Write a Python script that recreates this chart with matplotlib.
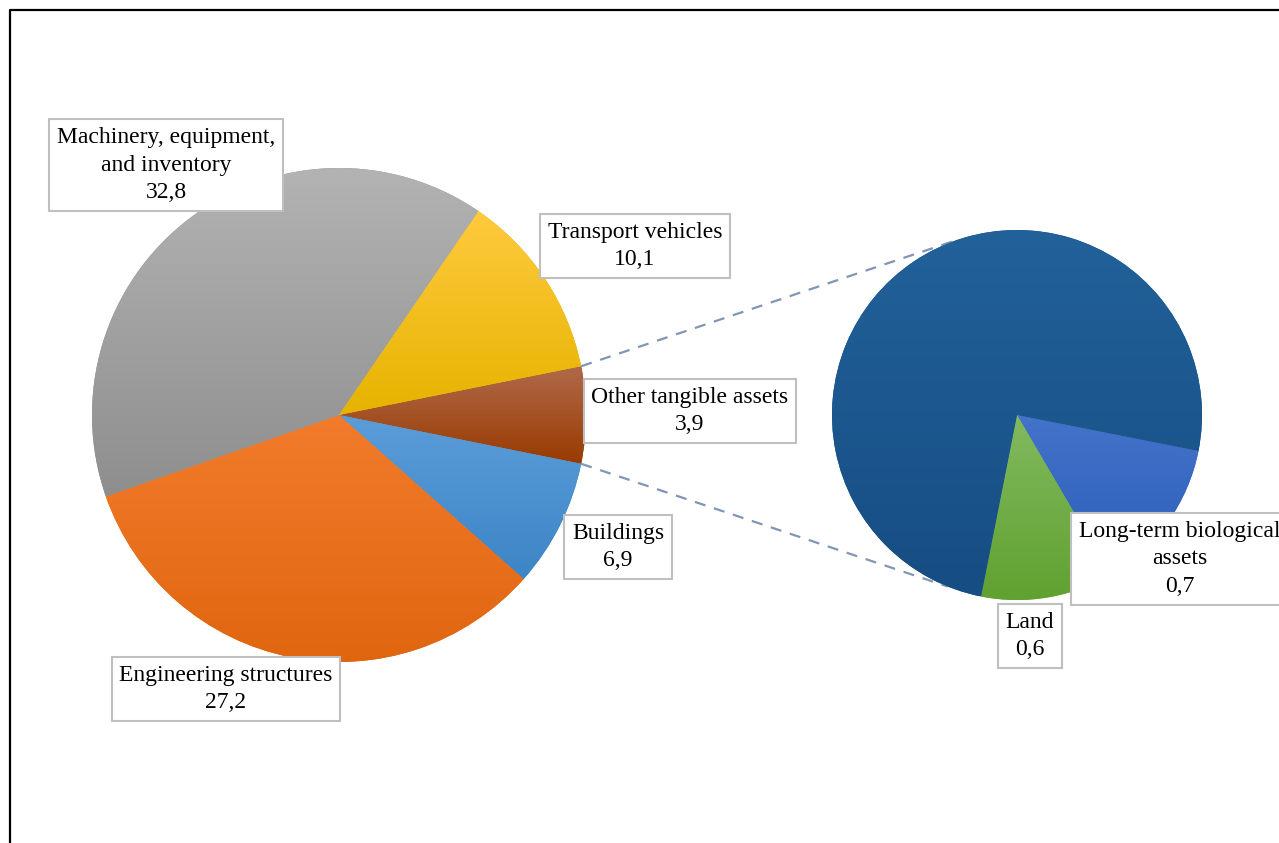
import numpy as np
import matplotlib.pyplot as plt
from matplotlib.colors import to_rgb

# main pie (clockwise from the aggregated "other" slice)
main_labels = ["Buildings", "Engineering structures",
               "Machinery, equipment,\nand inventory", "Transport vehicles"]
main_values = [6.9, 27.2, 32.8, 10.1]
main_top = ["#5b9dd9", "#f27c2c", "#b3b3b3", "#ffca3e"]
main_bot = ["#3d85c6", "#e0650f", "#8e8e8e", "#e6b300"]

# second pie (clockwise from blue)
sub_labels = ["Long-term biological\nassets", "Land", "Other tangible assets"]
sub_values = [0.7, 0.6, 3.9]
sub_top = ["#4373ca", "#82ba60", "#22619a"]
sub_bot = ["#2c5eb8", "#60a130", "#164d83"]
other_top, other_bot = "#b06a4a", "#983a00"

fmt = lambda v: f"{v:.1f}".replace(".", ",")

H = 843
c1, r1 = (339, H - 415), 247
c2, r2 = (1017, H - 415), 185

plt.rcParams['font.family'] = ['Liberation Serif', 'DejaVu Serif']
fig = plt.figure(figsize=(12.79, 8.43), dpi=100)
ax = fig.add_axes([0, 0, 1, 1])

other_total = sum(sub_values)
vals1 = [other_total] + main_values
total1 = sum(vals1)
half = 360 * other_total / total1 / 2


def grad_pie(vals, tops, bots, center, radius, start):
    wedges, _ = ax.pie(vals, colors=bots, startangle=start, counterclock=False,
                       center=center, radius=radius, frame=True,
                       wedgeprops=dict(linewidth=0))
    for w, t, b in zip(wedges, tops, bots):
        v = w.get_path().vertices
        x0, x1 = v[:, 0].min(), v[:, 0].max()
        y0, y1 = v[:, 1].min(), v[:, 1].max()
        f = np.linspace(0, 1, 200)[:, None]
        img = (1 - f) * np.array(to_rgb(t)) + f * np.array(to_rgb(b))
        im = ax.imshow(img[:, None, :], extent=(x0, x1, y0, y1), origin='upper',
                       aspect='auto', interpolation='bilinear', zorder=2)
        im.set_clip_path(w)
    return wedges


grad_pie(vals1, [other_top] + main_top, [other_bot] + main_bot, c1, r1, half)
grad_pie(sub_values, sub_top, sub_bot, c2, r2, -11.2)

# connector lines
for a1, a2 in [(half, 108.5), (-half, -112)]:
    p1 = (c1[0] + r1 * np.cos(np.radians(a1)), c1[1] + r1 * np.sin(np.radians(a1)))
    p2 = (c2[0] + r2 * np.cos(np.radians(a2)), c2[1] + r2 * np.sin(np.radians(a2)))
    ax.plot([p1[0], p2[0]], [p1[1], p2[1]], color="#8096b4", lw=1.6,
            dashes=(5, 4), zorder=1.5)

box = dict(boxstyle="square,pad=0.33", fc="white", ec="#bfbfbf", lw=1.5)
main_pos = [(618, 547), (226, 689), (166, 165), (635, 246)]
for lab, v, (x, y) in zip(main_labels, main_values, main_pos):
    ax.text(x, H - y, f"{lab}\n{fmt(v)}", ha="center", va="center", fontsize=17,
            linespacing=1.42, bbox=box, zorder=5)
sub_pos = [(1180, 559), (1030, 636), (690, 411)]
for lab, v, (x, y) in zip(sub_labels, sub_values, sub_pos):
    ax.text(x, H - y, f"{lab}\n{fmt(v)}", ha="center", va="center", fontsize=17,
            linespacing=1.42, bbox=box, zorder=5, clip_on=False)

# outer frame (only left and top visible)
ax.plot([9.5, 9.5, 1300], [-10, H - 10, H - 10], color="black", lw=1.6, clip_on=False)

ax.set_xlim(0, 1279)
ax.set_ylim(0, H)
ax.set_aspect("auto")
ax.axis("off")
fig.savefig("out.png", dpi=100)
